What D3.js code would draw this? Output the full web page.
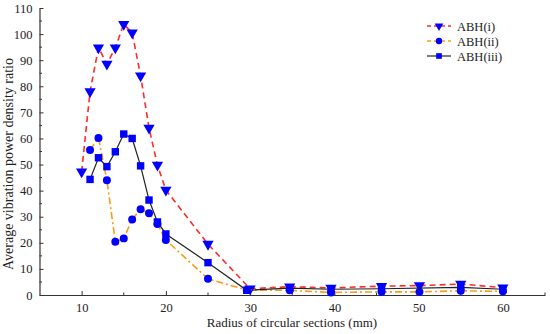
<!DOCTYPE html>
<meta charset="utf-8">
<style>
body { margin: 0; background: #fff; }
text { font-family: "Liberation Serif", "Times New Roman", serif; fill: #222; }
</style>
<svg width="550" height="334"></svg>
<script src="https://d3js.org/d3.v7.min.js"></script>
<script>

// values
var seriesNames = ["ABH(i)", "ABH(ii)", "ABH(iii)"];

var xI   = [10, 11, 12, 13, 14, 15, 16, 17, 18, 19, 20, 25, 30, 34.7, 39.6, 45.6, 50.1, 55, 60];
var yI   = [47.2, 78, 94.8, 88.5, 94.8, 103.8, 100.5, 84, 64, 49.8, 40.2, 19.5, 2.4, 3.2, 2.7, 3.4, 3.6, 4.2, 2.8];

var xII  = [11, 12, 13, 14, 15, 16, 17, 18, 19, 20, 25, 29.6, 34.7, 39.6, 45.6, 50.1, 55, 60];
var yII  = [55.6, 60.2, 44, 20.4, 21.7, 28.9, 32.9, 31.3, 27.2, 21.1, 6.2, 1.9, 1.8, 1.0, 1.2, 1.2, 1.6, 1.4];

var xIII = [11, 12, 13, 14, 15, 16, 17, 18, 19, 20, 25, 29.6, 34.7, 39.6, 45.6, 55, 60];
var yIII = [44.3, 52.6, 49.2, 54.9, 61.7, 60, 49.5, 36.4, 28, 23.4, 12.4, 1.8, 2.6, 2.2, 2.4, 2.9, 2.2];

var xTicks = [10, 20, 30, 40, 50, 60];
var yTicks = d3.range(0, 111, 10);

var svg = d3.select("svg");

var x = d3.scaleLinear().domain([5, 65]).range([39.5, 545]);
var y = d3.scaleLinear().domain([0, 110]).range([295, 8]);

var series = [
  {name: seriesNames[0], xs: xI, ys: yI, color: "#ff2a2a", dash: "6,4", sym: d3.symbolTriangle, rot: 180, size: 55},
  {name: seriesNames[1], xs: xII, ys: yII, color: "#ff9914", dash: "7,3,2,3", sym: d3.symbolCircle, rot: 0, size: 50},
  {name: seriesNames[2], xs: xIII, ys: yIII, color: "#222", dash: null, sym: d3.symbolSquare, rot: 0, size: 55}
];

// axes, ticks pointing inward
var xAxis = svg.append("g")
    .attr("transform", "translate(0," + y(0) + ")")
    .call(d3.axisBottom(x).tickValues(xTicks).tickSize(-4).tickPadding(8).tickSizeOuter(0));
xAxis.append("g").selectAll("line")
    .data([15, 25, 35, 45, 55, 65])
  .enter().append("line")
    .attr("x1", d => x(d)).attr("x2", d => x(d))
    .attr("y1", 0).attr("y2", -2.5)
    .attr("stroke", "#333");

var yAxis = svg.append("g")
    .attr("transform", "translate(" + x(5) + ",0)")
    .call(d3.axisLeft(y).tickValues(yTicks).tickSize(-4).tickPadding(7).tickSizeOuter(0));
yAxis.append("g").selectAll("line")
    .data(d3.range(5, 110, 10))
  .enter().append("line")
    .attr("y1", d => y(d)).attr("y2", d => y(d))
    .attr("x1", 0).attr("x2", 2.5)
    .attr("stroke", "#333");

svg.selectAll(".domain").attr("stroke", "#333").attr("stroke-width", 1.2);
svg.selectAll(".tick line").attr("stroke", "#333");
svg.selectAll(".tick text").style("font-size", "12.5px").attr("fill", "#222");

svg.append("text")
    .attr("x", 292).attr("y", 327)
    .attr("text-anchor", "middle")
    .style("font-size", "13px")
    .text("Radius of circular sections (mm)");

svg.append("text")
    .attr("transform", "translate(13,164) rotate(-90)")
    .attr("text-anchor", "middle")
    .style("font-size", "14px")
    .text("Average vibration power density ratio");

// lines then markers
var line = d3.line().x(d => x(d[0])).y(d => y(d[1]));

series.forEach(function(s) {
  var pts = s.xs.map((v, i) => [v, s.ys[i]]);
  svg.append("path")
      .attr("d", line(pts))
      .attr("fill", "none")
      .attr("stroke", s.color)
      .attr("stroke-width", s.dash ? 1.6 : 1.2)
      .attr("stroke-dasharray", s.dash);
  svg.append("g").selectAll("path")
      .data(pts)
    .enter().append("path")
      .attr("d", d3.symbol().type(s.sym).size(s.size))
      .attr("transform", d => "translate(" + x(d[0]) + "," + y(d[1]) + ") rotate(" + s.rot + ")")
      .attr("fill", "#0000ff");
});

// legend
var legend = svg.append("g").attr("transform", "translate(427,26)");
series.forEach(function(s, i) {
  var g = legend.append("g").attr("transform", "translate(0," + i * 15 + ")");
  g.append("line")
      .attr("x1", 0).attr("x2", 24)
      .attr("stroke", s.color)
      .attr("stroke-width", s.dash ? 1.6 : 1.2)
      .attr("stroke-dasharray", s.dash ? "4,3" : null);
  g.append("path")
      .attr("d", d3.symbol().type(s.sym).size(32))
      .attr("transform", "translate(12,0) rotate(" + s.rot + ")")
      .attr("fill", "#0000ff");
  g.append("text")
      .attr("x", 30).attr("y", 4.5)
      .style("font-size", "12.5px")
      .text(s.name);
});

</script>
